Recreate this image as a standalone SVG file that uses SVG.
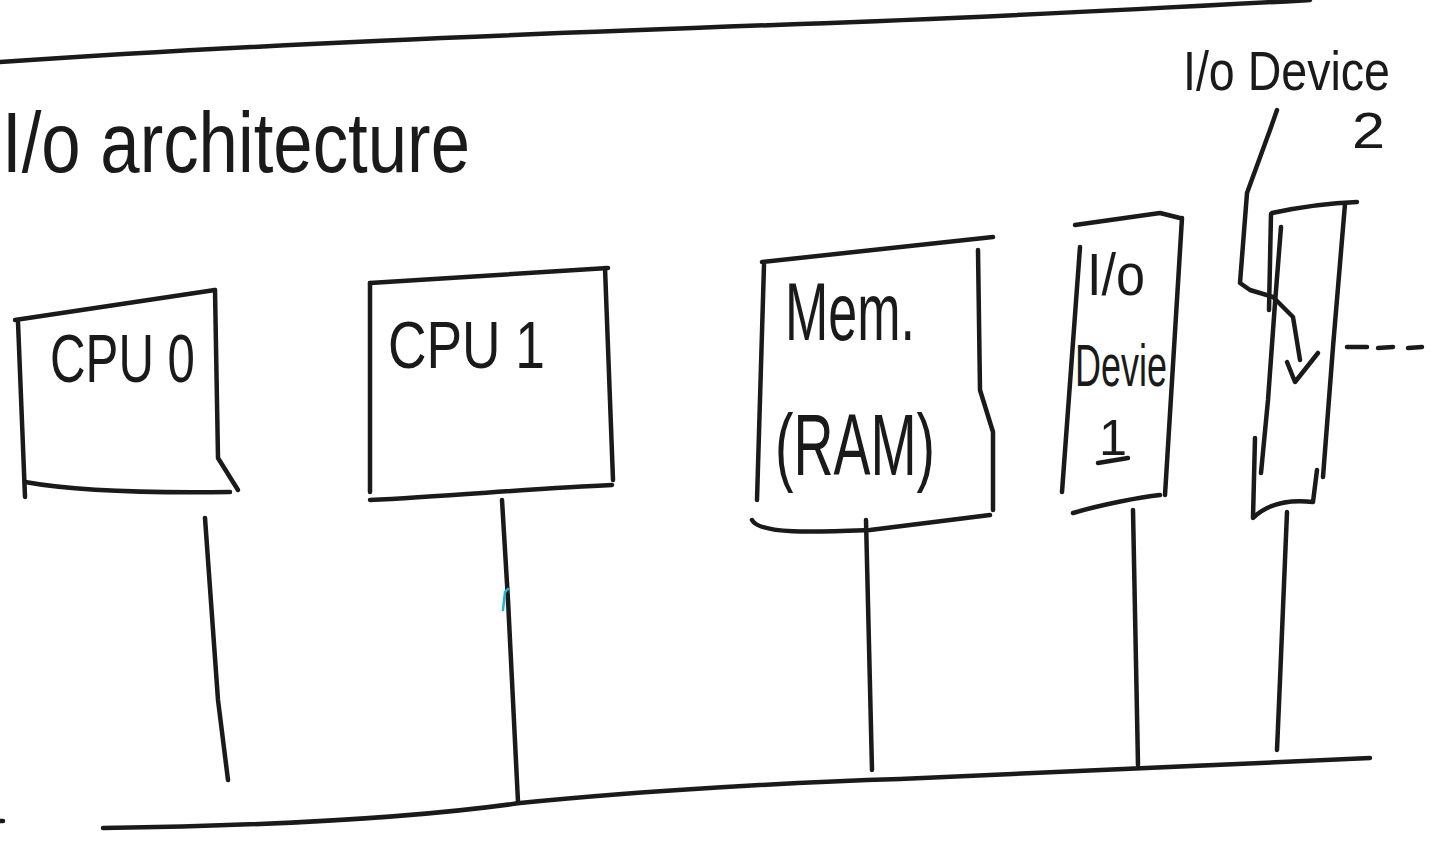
<svg xmlns="http://www.w3.org/2000/svg" width="1435" height="848" viewBox="0 0 1435 848">
<style>
.s{fill:none;stroke:#1a1a1a;stroke-width:4.5;stroke-linecap:round;stroke-linejoin:round}
.t{font-family:"Liberation Sans","DejaVu Sans",sans-serif;fill:#1a1a1a;}
</style>
<rect width="1435" height="848" fill="#ffffff"/>
<g id="frame">
<path class="s" d="M0,62 C250,45 500,35 800,24 C1000,17 1200,6 1310,0"/>
<text class="t" x="2" y="172" font-size="85" textLength="468" lengthAdjust="spacingAndGlyphs">I/o architecture</text>
<path class="s" d="M0,821 L3,821" stroke-width="2"/>
</g>
<g id="cpu0">
<path class="s" d="M15,320 L215,290"/>
<path class="s" d="M18,322 L25,497"/>
<path class="s" d="M215,290 L218,458 L238,490"/>
<path class="s" d="M25,482 C80,492 160,493 230,492"/>
<text class="t" x="50" y="382" font-size="68" textLength="145" lengthAdjust="spacingAndGlyphs">CPU 0</text>
</g>
<g id="cpu1">
<path class="s" d="M370,283 L608,268"/>
<path class="s" d="M370,283 L370,492"/>
<path class="s" d="M605,268 L613,480"/>
<path class="s" d="M370,500 C450,496 540,488 612,485"/>
<text class="t" x="388" y="368" font-size="66" textLength="157" lengthAdjust="spacingAndGlyphs">CPU 1</text>
</g>
<g id="mem">
<path class="s" d="M762,262 L993,237"/>
<path class="s" d="M764,265 L757,500"/>
<path class="s" d="M978,250 L980,390 L993,432 L993,510"/>
<path class="s" d="M752,520 C760,535 820,532 870,530 L990,515"/>
<text class="t" x="785" y="340" font-size="82" textLength="130" lengthAdjust="spacingAndGlyphs">Mem.</text>
<text class="t" x="775" y="475" font-size="88" textLength="160" lengthAdjust="spacingAndGlyphs">(RAM)</text>
</g>
<g id="io1">
<path class="s" d="M1075,225 L1160,213 L1180,218"/>
<path class="s" d="M1080,247 L1062,492"/>
<path class="s" d="M1182,218 L1165,495"/>
<path class="s" d="M1073,513 C1100,505 1140,497 1160,495"/>
<text class="t" x="1087" y="295" font-size="60" textLength="58" lengthAdjust="spacingAndGlyphs">I/o</text>
<text class="t" x="1075" y="386" font-size="60" textLength="92" lengthAdjust="spacingAndGlyphs">Devie</text>
<text class="t" x="1099" y="455" font-size="50" textLength="28" lengthAdjust="spacingAndGlyphs">1</text>
<path class="s" d="M1098,463 L1128,458"/>
</g>
<g id="io2">
<path class="s" d="M1272,213 C1300,207 1330,203 1357,202"/>
<path class="s" d="M1271,214 L1269,310"/>
<path class="s" d="M1281,227 L1275,303 L1268,400 L1261,473"/>
<path class="s" d="M1345,204 L1333,347 L1323,477"/>
<path class="s" d="M1255,438 L1253,518 C1265,506 1285,499 1313,502 L1317,470"/>
<path class="s" d="M1347,347 L1367,347 M1378,348 L1393,347 M1408,348 L1422,347" stroke-width="3.5"/>
<text class="t" x="1183" y="90" font-size="55" textLength="207" lengthAdjust="spacingAndGlyphs">I/o Device</text>
<text class="t" x="1352" y="148" font-size="50" textLength="33" lengthAdjust="spacingAndGlyphs">2</text>
</g>
<g id="connectors">
<path class="s" d="M1277,110 L1270,130 L1247,193 L1240,283 L1250,290 L1273,297 L1293,317 L1300,360"/>
<path class="s" d="M1287,362 L1295,382 L1318,353"/>
<path class="s" d="M205,518 L218,700 L228,780"/>
<path class="s" d="M502,500 L508,600 L518,802"/>
<path class="s" d="M866,520 L872,770"/>
<path class="s" d="M1133,510 L1138,765"/>
<path class="s" d="M1287,512 L1280,680 L1277,750"/>
<path class="s" d="M103,828 C250,826 400,820 520,803 C650,790 800,782 900,779 L1370,758"/>
<path d="M508,589 L505,592 L503,610" fill="none" stroke="#1fb5cc" stroke-width="2.5" stroke-linecap="round"/>
</g>
</svg>
